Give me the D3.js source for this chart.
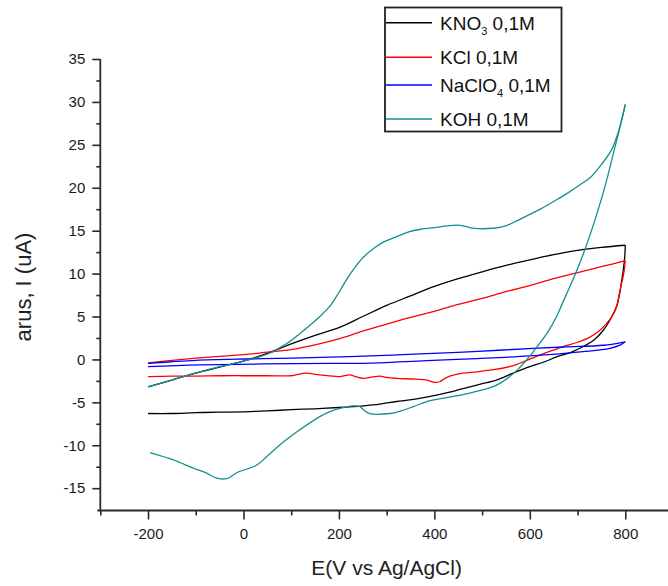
<!DOCTYPE html>
<html><head><meta charset="utf-8">
<script src="https://cdn.jsdelivr.net/npm/d3@7"></script>
<style>
html,body{margin:0;padding:0;background:#fff;}
svg{display:block;font-family:"Liberation Sans",Arial,sans-serif;}
</style></head>
<body>
<svg id="c" width="668" height="586"></svg>
<script>
// ---- data (E in mV vs Ag/AgCl, i in uA) ----
const seriesNames = ["KNO3 0,1M", "KCl 0,1M", "NaClO4 0,1M", "KOH 0,1M"];
const seriesColors = ["#000000", "#ff0000", "#0000ff", "#12908f"];

const kno3 = [[-200,-3.2],[-150,-2.4],[-100,-1.6],[-50,-0.9],[0,-0.2],[50,0.7],[100,1.8],[150,2.8],[200,3.7],[250,5.0],[300,6.3],[350,7.4],[400,8.5],[450,9.4],[500,10.2],[550,10.95],[600,11.6],[650,12.2],[700,12.7],[750,13.05],[800,13.3],
  [799,12.0],[796,10.5],[792,9.0],[788,7.6],[782,6.2],[770,4.8],[754,3.4],[735,2.3],[712,1.5],[685,0.8],[656,0.3],[630,-0.3],[600,-0.85],[565,-1.6],[530,-2.4],[495,-2.9],[460,-3.4],[425,-3.9],[391,-4.3],[356,-4.65],[321,-4.9],[286,-5.2],[251,-5.4],[200,-5.6],[150,-5.75],[100,-5.85],[50,-6.0],[0,-6.1],[-50,-6.15],[-100,-6.2],[-150,-6.3],[-200,-6.3]];

const kcl = [[-200,-0.4],[-150,-0.1],[-100,0.15],[-50,0.35],[0,0.55],[50,0.85],[100,1.15],[150,1.7],[200,2.4],[250,3.3],[300,4.1],[350,4.9],[400,5.6],[450,6.4],[500,7.1],[550,7.9],[600,8.6],[650,9.4],[700,10.1],[750,10.8],[800,11.5],
  [798,10.5],[795,9.5],[792,8.8],[787,7.5],[782,6.2],[772,5.0],[761,4.2],[745,3.3],[726,2.6],[700,2.0],[670,1.5],[640,0.9],[614,0.35],[590,-0.2],[572,-0.6],[545,-1.0],[516,-1.25],[490,-1.45],[460,-1.6],[435,-1.9],[422,-2.2],[411,-2.6],[398,-2.65],[385,-2.4],[360,-2.3],[321,-2.2],[300,-2.1],[286,-1.95],[265,-2.1],[251,-2.2],[235,-2.0],[223,-1.8],[200,-2.0],[160,-1.8],[130,-1.6],[118,-1.7],[100,-1.9],[50,-1.9],[0,-1.9],[-50,-1.9],[-100,-1.95],[-150,-1.95],[-200,-2.0]];

const naclo4 = [[-200,-0.45],[-157,-0.3],[-100,-0.1],[0,0.05],[104,0.15],[181,0.26],[237,0.35],[370,0.64],[460,0.85],[544,1.1],[670,1.45],[754,1.65],[800,2.05],
  [790,1.7],[768,1.3],[712,0.91],[600,0.41],[489,0.1],[384,-0.14],[251,-0.45],[181,-0.45],[-91,-0.64],[-200,-0.84]];

const koh = [[-200,-3.2],[-150,-2.4],[-100,-1.6],[-50,-0.85],[0,-0.2],[55,0.72],[80,1.5],[100,2.2],[118,3.0],[140,4.0],[160,5.0],[181,6.2],[200,7.8],[216,9.3],[232,10.6],[251,11.9],[272,12.9],[294,13.7],[321,14.3],[348,14.9],[375,15.2],[400,15.35],[426,15.55],[448,15.65],[465,15.5],[480,15.3],[523,15.28],[551,15.6],[575,16.2],[600,16.9],[625,17.6],[650,18.4],[680,19.4],[705,20.35],[727,21.2],[750,22.7],[772,24.5],[786,26.6],[800,29.7],
  [790,27.3],[776,24.2],[763,21.3],[750,18.7],[735,16.0],[716,12.9],[698,10.3],[684,8.5],[668,6.5],[656,5.0],[638,3.2],[621,1.9],[606,0.8],[593,-0.06],[576,-1.1],[558,-2.0],[540,-2.7],[523,-3.17],[490,-3.7],[460,-4.1],[420,-4.5],[391,-4.8],[356,-5.5],[330,-6.0],[307,-6.3],[265,-6.3],[252,-5.9],[244,-5.5],[230,-5.42],[202,-5.7],[180,-6.1],[160,-6.66],[118,-8.2],[76,-9.96],[49,-11.3],[28,-12.3],[-14,-13.2],[-35,-13.9],[-56,-13.84],[-77,-13.25],[-105,-12.67],[-147,-11.7],[-196,-10.85]];

const xMajorTicks = [-200, 0, 200, 400, 600, 800];
const xMinorTicks = [-300, -100, 100, 300, 500, 700];
const yMajorTicks = [-15, -10, -5, 0, 5, 10, 15, 20, 25, 30, 35];
const yMinorTicks = [-12.5, -7.5, -2.5, 2.5, 7.5, 12.5, 17.5, 22.5, 27.5, 32.5];

const xTitle = "E(V vs Ag/AgCl)";
const yTitle = "arus, I (uA)";

// ---- drawing ----
const svg = d3.select("#c");
const x = d3.scaleLinear().domain([-300, 900]).range([100.3, 673]);
const y = d3.scaleLinear().domain([-17.6, 35]).range([510.5, 59]);
const axisColor = "#2a2a2a";

const line = d3.line().x(d => x(d[0])).y(d => y(d[1])).curve(d3.curveCatmullRom.alpha(0.5));
const allSeries = [kno3, kcl, naclo4, koh];

// split each cyclic scan at the vertex potential so the corner stays sharp
allSeries.forEach((s, i) => {
  const k = d3.maxIndex(s, d => d[0]);
  const branches = [s.slice(0, k + 1), s.slice(k)];
  svg.append("g").selectAll("path").data(branches).join("path")
    .attr("d", d => line(d))
    .attr("fill", "none")
    .attr("stroke", seriesColors[i])
    .attr("stroke-width", 1.3)
    .attr("stroke-linejoin", "round");
});

// axes
function styleAxis(g) {
  g.select(".domain").remove();
  g.selectAll(".tick line").attr("stroke", axisColor).attr("stroke-width", 1.6);
  g.selectAll("text").attr("fill", "#1a1a1a").attr("font-size", 15);
}
const fmt = d => String(d);
const gx = svg.append("g").attr("transform", `translate(0,${y(-17.6)})`);
gx.call(d3.axisBottom(x).tickValues(xMajorTicks).tickSize(9).tickPadding(9).tickFormat(fmt));
styleAxis(gx);
const gxm = svg.append("g").attr("transform", `translate(0,${y(-17.6)})`);
gxm.call(d3.axisBottom(x).tickValues(xMinorTicks).tickSize(5).tickFormat(""));
styleAxis(gxm);

const gy = svg.append("g").attr("transform", `translate(${x(-300)},0)`);
gy.call(d3.axisLeft(y).tickValues(yMajorTicks).tickSize(8).tickPadding(7).tickFormat(fmt));
styleAxis(gy);
const gym = svg.append("g").attr("transform", `translate(${x(-300)},0)`);
gym.call(d3.axisLeft(y).tickValues(yMinorTicks).tickSize(4).tickFormat(""));
styleAxis(gym);

// axis lines
svg.append("line").attr("x1", x(-300) - 3).attr("x2", 668).attr("y1", y(-17.6)).attr("y2", y(-17.6))
  .attr("stroke", axisColor).attr("stroke-width", 1.8);
svg.append("line").attr("x1", x(-300)).attr("x2", x(-300)).attr("y1", y(35)).attr("y2", y(-17.6))
  .attr("stroke", axisColor).attr("stroke-width", 1.8);

// titles
svg.append("text").attr("x", x(300)).attr("y", 575).attr("text-anchor", "middle")
  .attr("font-size", 21).attr("fill", "#222").text(xTitle);
svg.append("text").attr("transform", `translate(31,287) rotate(-90)`).attr("text-anchor", "middle")
  .attr("font-size", 22).attr("fill", "#222").text(yTitle);

// legend
const leg = svg.append("g");
leg.append("rect").attr("x", 385).attr("y", 7.5).attr("width", 176.5).attr("height", 124)
  .attr("fill", "#fff").attr("stroke", "#222").attr("stroke-width", 1.8);
const rowY = [22.7, 57.3, 85, 119];
const legendParts = [["KNO", "3", " 0,1M"], ["KCl 0,1M", "", ""], ["NaClO", "4", " 0,1M"], ["KOH 0,1M", "", ""]];
seriesNames.forEach((name, i) => {
  leg.append("line").attr("x1", 386).attr("x2", 432).attr("y1", rowY[i]).attr("y2", rowY[i])
    .attr("stroke", seriesColors[i]).attr("stroke-width", 1.5);
  const t = leg.append("text").attr("x", 440).attr("y", rowY[i] + 6.8)
    .attr("font-size", 19).attr("fill", "#111");
  const p = legendParts[i];
  t.append("tspan").text(p[0]);
  if (p[1]) {
    t.append("tspan").attr("font-size", 11).attr("dy", 5).text(p[1]);
    t.append("tspan").attr("dy", -5).text(p[2]);
  }
});
</script>
</body></html>
